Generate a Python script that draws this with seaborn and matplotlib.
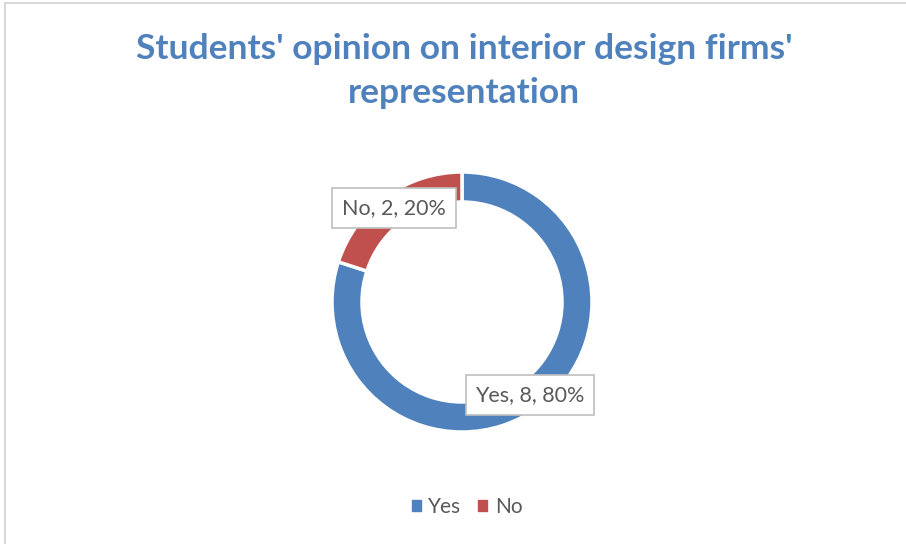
import matplotlib
matplotlib.use("Agg")
import matplotlib.pyplot as plt
import seaborn as sns
from matplotlib.patches import Rectangle

sns.set_theme(style="white")
plt.rcParams["font.family"] = ["Lato", "DejaVu Sans"]

# Survey responses
categories = ["Yes", "No"]
counts = [8, 2]
colors = ["#4F81BD", "#C0504D"]
title = "Students' opinion on interior design firms'\nrepresentation"

total = sum(counts)
percents = [round(100 * c / total) for c in counts]

fig = plt.figure(figsize=(9.06, 5.44), dpi=100)
fig.patch.set_facecolor("white")

# thin chart-area frame along the top and left edges
fig.add_artist(plt.Line2D([4.5 / 906, 4.5 / 906], [0, 1 - 2.5 / 544], color="#D9D9D9", lw=1.5,
                          transform=fig.transFigure))
fig.add_artist(plt.Line2D([4.5 / 906, 1], [1 - 2.5 / 544, 1 - 2.5 / 544], color="#D9D9D9", lw=1.5,
                          transform=fig.transFigure))

# donut: centre (462, 302) px, outer radius 130 px
R = 130
cx, cy = 462, 302
ax = fig.add_axes([(cx - R) / 906, (544 - cy - R) / 544, 2 * R / 906, 2 * R / 544])
wedges, _ = ax.pie(counts, colors=colors, startangle=90, counterclock=False, radius=1.0,
                   wedgeprops=dict(width=30 / 130, edgecolor="white", linewidth=2.5))
ax.set_xlim(-1, 1)
ax.set_ylim(-1, 1)
ax.set_aspect("equal")
ax.axis("off")

fig.text(464 / 906, 1 - 71 / 544, title, ha="center", va="center", fontsize=25.5, fontweight="bold",
         color="#4F81BD", linespacing=1.45)

# data labels in boxes
label_pos = {"Yes": (530, 395), "No": (394, 208)}
for cat, n, p in zip(categories, counts, percents):
    x, y = label_pos[cat]
    fig.text(x / 906, 1 - y / 544, f"{cat}, {n}, {p}%", ha="center", va="center",
             fontsize=15.5, color="#595959",
             bbox=dict(boxstyle="square,pad=0.45", facecolor="white", edgecolor="#BFBFBF", lw=1.2))

# legend
handles = [Rectangle((0, 0), 1, 1, color=c) for c in colors]
fig.legend(handles, categories, loc="center", bbox_to_anchor=(467 / 906, 1 - 507 / 544),
           ncol=2, frameon=False, fontsize=15, handlelength=0.45, handleheight=0.45,
           handletextpad=0.35, columnspacing=0.8, labelcolor="#595959")

fig.savefig("out.png", dpi=100, facecolor="white")
